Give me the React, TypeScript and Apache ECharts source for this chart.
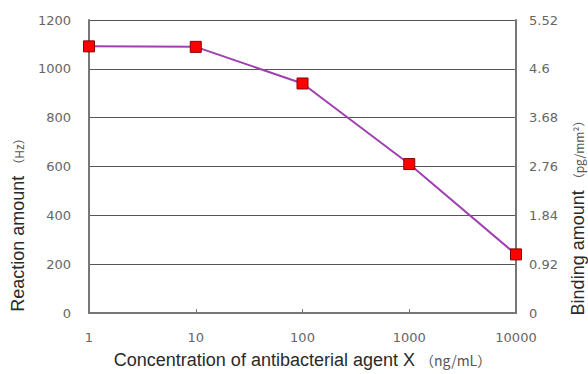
import React, { useEffect, useRef } from "react";
import * as echarts from "echarts";

const concentrations = [1, 10, 100, 1000, 10000];
const reactionValues = [1092, 1090, 940, 610, 240];
const leftMax = 1200;
const leftInterval = 200;
const rightMax = 5.52;
const rightInterval = 0.92;

const LABEL_FONT = "'DejaVu Sans', sans-serif";
const TITLE_FONT = "'Liberation Sans', Arial, sans-serif";
const CJK_FONT = "'Noto Sans CJK JP', sans-serif";

export default function App() {
  const ref = useRef<HTMLDivElement>(null);
  useEffect(() => {
    if (!ref.current) return;
    const chart = echarts.init(ref.current, undefined, { renderer: "svg" });
    chart.setOption({
      animation: false,
      backgroundColor: "#ffffff",
      grid: { left: 89, right: 72, top: 20, bottom: 59, containLabel: false },
      graphic: [
        {
          type: "text",
          x: 18,
          y: 222,
          rotation: Math.PI / 2,
          style: {
            text: "Reaction amount {u|（Hz）}",
            fontSize: 18,
            fontFamily: TITLE_FONT,
            fill: "#2a2a2a",
            align: "center",
            verticalAlign: "middle",
            rich: { u: { fontSize: 12, fontFamily: CJK_FONT, fill: "#555", color: "#555" } },
          },
        },
        {
          type: "text",
          x: 578,
          y: 215,
          rotation: Math.PI / 2,
          style: {
            text: "Binding amount {u|（pg/mm²）}",
            fontSize: 18,
            fontFamily: TITLE_FONT,
            fill: "#2a2a2a",
            align: "center",
            verticalAlign: "middle",
            rich: { u: { fontSize: 12, fontFamily: CJK_FONT, fill: "#555", color: "#555" } },
          },
        },
      ],
      xAxis: {
        type: "log",
        logBase: 10,
        min: 1,
        max: 10000,
        name: "Concentration of antibacterial agent X {u|（ng/mL）}",
        nameLocation: "middle",
        nameGap: 38,
        nameTextStyle: {
          fontSize: 18,
          color: "#2a2a2a",
          fontFamily: TITLE_FONT,
          rich: { u: { fontSize: 14, color: "#555", fontFamily: CJK_FONT } },
        },
        axisLine: { show: true, lineStyle: { color: "#777", width: 2 } },
        axisTick: { show: true, inside: true, length: 4, lineStyle: { color: "#777" } },
        axisLabel: {
          color: "#666",
          fontSize: 13,
          margin: 18,
          fontFamily: LABEL_FONT,
          formatter: (v: number) => String(Math.round(v)),
        },
        splitLine: { show: false },
        minorTick: { show: false },
      },
      yAxis: [
        {
          type: "value",
          min: 0,
          max: leftMax,
          interval: leftInterval,
          position: "left",
          axisLine: { show: true, lineStyle: { color: "#777", width: 2 } },
          axisTick: { show: false },
          axisLabel: {
            color: "#666",
            fontSize: 13,
            margin: 18,
            fontFamily: LABEL_FONT,
            formatter: (v: number) => String(v),
          },
          splitLine: { show: true, lineStyle: { color: "#555", width: 1 } },
        },
        {
          type: "value",
          min: 0,
          max: rightMax,
          interval: rightInterval,
          position: "right",
          axisLine: { show: true, lineStyle: { color: "#777", width: 2 } },
          axisTick: { show: false },
          axisLabel: {
            color: "#666",
            fontSize: 13,
            margin: 13,
            fontFamily: LABEL_FONT,
            formatter: (v: number) => String(parseFloat(v.toFixed(2))),
          },
          splitLine: { show: false },
        },
      ],
      series: [
        {
          type: "line",
          yAxisIndex: 0,
          data: concentrations.map((c, i) => [c, reactionValues[i]]),
          lineStyle: { color: "#a040b0", width: 2 },
          itemStyle: { color: "#ff0000", borderColor: "#8a0000", borderWidth: 1 },
          symbol: "rect",
          symbolSize: 11,
          clip: false,
        },
      ],
    });
    return () => chart.dispose();
  }, []);
  return (
    <div
      ref={ref}
      style={{ position: "absolute", left: 0, top: 0, width: 588, height: 374 }}
    />
  );
}
